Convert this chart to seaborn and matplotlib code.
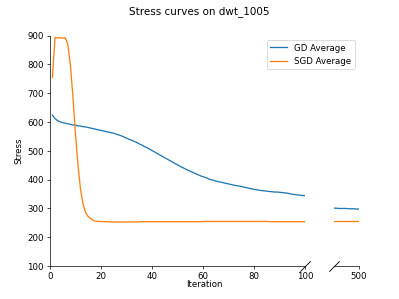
import matplotlib
matplotlib.use("Agg")
import matplotlib.pyplot as plt
import seaborn as sns
import pandas as pd

iterations = list(range(1, 101))
gd_average = [624, 612, 605, 601, 598, 596, 594, 592, 590, 589,
              587, 586, 584, 583, 581, 579, 577, 575, 573, 571,
              569, 567, 565, 563, 561, 558, 555, 552, 548, 544,
              540, 537, 533, 529, 524, 520, 515, 511, 506, 501,
              496, 491, 486, 481, 476, 471, 466, 461, 456, 451,
              446, 442, 437, 433, 429, 425, 421, 417, 413, 410,
              407, 403, 400, 398, 395, 393, 391, 389, 387, 385,
              383, 381, 379, 378, 376, 374, 372, 370, 368, 366,
              365, 363, 362, 361, 360, 359, 358, 357, 357, 356,
              355, 354, 353, 351, 349, 348, 347, 346, 345, 344]
sgd_average = [755, 893, 892, 893, 891, 893, 870, 800, 690, 560,
               450, 365, 315, 285, 272, 265, 258, 256, 255, 255,
               254, 254, 254, 253, 253, 253, 253, 253, 253, 253,
               253, 253, 253, 253, 254, 254, 254, 254, 254, 254,
               254, 254, 254, 254, 254, 254, 254, 254, 254, 254,
               254, 254, 254, 254, 254, 254, 254, 254, 254, 255,
               255, 255, 255, 255, 255, 255, 255, 255, 255, 255,
               255, 255, 255, 255, 255, 255, 255, 255, 255, 255,
               255, 255, 255, 255, 255, 254, 254, 254, 254, 254,
               254, 254, 254, 254, 254, 254, 254, 254, 254, 254]

tail_iterations = [490, 491, 492, 493, 494, 495, 496, 497, 498, 499, 500]
gd_tail = [301, 301, 300, 300, 300, 300, 299, 299, 299, 298, 298]
sgd_tail = [255, 255, 255, 255, 255, 255, 255, 255, 255, 255, 255]

series_names = ["GD Average", "SGD Average"]
colors = ["#1f77b4", "#ff7f0e"]

df_main = pd.DataFrame({"Iteration": iterations, "GD": gd_average, "SGD": sgd_average})
df_tail = pd.DataFrame({"Iteration": tail_iterations, "GD": gd_tail, "SGD": sgd_tail})

fig, (ax1, ax2) = plt.subplots(1, 2, sharey=True, figsize=(6.4, 4.8), dpi=62.35,
                               gridspec_kw={"width_ratios": [10, 1]})

for col, name, c in zip(["GD", "SGD"], series_names, colors):
    sns.lineplot(data=df_main, x="Iteration", y=col, ax=ax1, color=c, label=name)
    sns.lineplot(data=df_tail, x="Iteration", y=col, ax=ax2, color=c, label=name)

if ax1.get_legend() is not None:
    ax1.get_legend().remove()
ax2.legend(loc="upper right")

ax1.set_xlim(0, 100)
ax2.set_xlim(490, 500)
ax1.set_ylim(100, 900)
ax1.set_yticks(range(100, 901, 100))
ax1.set_xticks(range(0, 101, 20))
ax2.set_xticks([500])

ax1.set_xlabel("")
ax2.set_xlabel("")
ax1.set_ylabel("Stress")
ax2.set_ylabel("")

for s in ["top", "right"]:
    ax1.spines[s].set_visible(False)
for s in ["top", "right", "left"]:
    ax2.spines[s].set_visible(False)
ax2.tick_params(left=False, labelleft=False)

kw = dict(marker=[(-1, -1), (1, 1)], markersize=12, linestyle="none",
          color="k", mec="k", mew=1, clip_on=False)
ax1.plot([1], [0], transform=ax1.transAxes, **kw)
ax2.plot([0], [0], transform=ax2.transAxes, **kw)

fig.suptitle("Stress curves on dwt_1005")
fig.text(0.512, 0.04, "Iteration", ha="center", va="baseline")

fig.savefig("out.png", dpi=62.35)
